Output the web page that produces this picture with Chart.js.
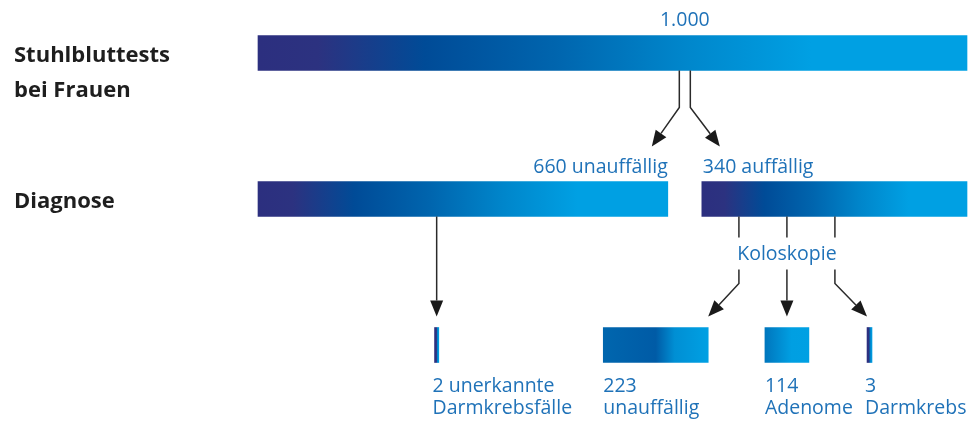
<!DOCTYPE html>
<html lang="de">
<head>
<meta charset="utf-8">
<title>Stuhlbluttests bei Frauen</title>
<script src="https://cdn.jsdelivr.net/npm/chart.js@4/dist/chart.umd.min.js"></script>
<style>
  html, body { margin: 0; padding: 0; background: #fff; }
  #wrap { width: 969px; height: 421px; }
</style>
</head>
<body>
<div id="wrap"><canvas id="flow" width="969" height="421"></canvas></div>
<script>
// rows of the diagram (left headings, last row has none)
const stages = ['Stuhlbluttests\nbei Frauen', 'Diagnose', ''];

// data
const totalTests = 1000;
const screenLabels = ['unauffällig', 'auffällig'];
const screenValues = [660, 340];
const followUpLabel = 'Koloskopie';
const outcomeLabels = ['unerkannte Darmkrebsfälle', 'unauffällig', 'Adenome', 'Darmkrebs'];
const outcomeValues = [2, 223, 114, 3];

// layout: where each box sits on the 0..1000 axis (the picture is not to scale)
const screenSpans = [[0, 578], [626, 1000]];
const outcomeSpans = [[249, 255], [487, 635], [715, 777], [859, 866]];

const blueText = '#1f72b8';
const shades = {
  full: [[0, '#2c2f7f'], [0.085, '#2c3280'], [0.235, '#004b97'], [0.42, '#0065ae'], [0.6, '#0086cb'], [0.78, '#00a0e3'], [1, '#00a0e3']],
  mid:  [[0, '#0066ae'], [0.5, '#005ba6'], [0.68, '#008fd4'], [1, '#00a0e3']],
  soft: [[0, '#0076bd'], [0.6, '#009fe2'], [1, '#00a0e3']],
  thin: [[0, '#2c2f7f'], [0.45, '#2c3280'], [0.55, '#0078c0'], [1, '#00a0e3']]
};

const bars = [{ row: 0, span: [0, totalTests], shade: 'full' }];
screenValues.forEach((v, i) => bars.push({ row: 1, span: screenSpans[i], shade: 'full' }));
outcomeValues.forEach((v, i) => bars.push({ row: 2, span: outcomeSpans[i], shade: ['thin', 'mid', 'soft', 'thin'][i] }));

function fmt(n) {
  return String(n).replace(/\B(?=(\d{3})+(?!\d))/g, '.');
}

function poly(ctx, pts) {
  ctx.beginPath();
  ctx.moveTo(pts[0][0], pts[0][1]);
  for (let i = 1; i < pts.length; i++) ctx.lineTo(pts[i][0], pts[i][1]);
  ctx.stroke();
}

function arrow(ctx, pts) {
  const [tx, ty] = pts[pts.length - 1];
  const [px, py] = pts[pts.length - 2];
  const a = Math.atan2(ty - py, tx - px);
  const len = 16, half = 6.5;
  const bx = tx - len * Math.cos(a), by = ty - len * Math.sin(a);
  poly(ctx, pts.slice(0, -1).concat([[bx, by]]));
  ctx.beginPath();
  ctx.moveTo(tx, ty);
  ctx.lineTo(bx + half * Math.sin(a), by - half * Math.cos(a));
  ctx.lineTo(bx - half * Math.sin(a), by + half * Math.cos(a));
  ctx.closePath();
  ctx.fill();
}

const flowPlugin = {
  id: 'flow',
  afterDatasetsDraw(chart) {
    const ctx = chart.ctx;
    const yScale = chart.scales.y;
    const r = chart.getDatasetMeta(0).data.map(el => {
      const p = el.getProps(['x', 'y', 'base', 'height'], true);
      return {
        l: Math.min(p.x, p.base), r: Math.max(p.x, p.base),
        t: p.y - p.height / 2, b: p.y + p.height / 2, c: (p.x + p.base) / 2
      };
    });
    const [top, left, right, o1, o2, o3, o4] = r;

    ctx.save();
    // headings
    ctx.fillStyle = '#1e1e1e';
    ctx.font = 'bold 22px "Open Sans"';
    ctx.textAlign = 'left';
    ctx.textBaseline = 'alphabetic';
    stages.forEach((s, i) => {
      if (!s) return;
      const y0 = yScale.getPixelForValue(i) + 9;
      s.split('\n').forEach((line, k) => ctx.fillText(line, 14, y0 + k * 35));
    });

    // connectors
    ctx.strokeStyle = '#2a2a2a';
    ctx.fillStyle = '#1a1a1a';
    ctx.lineWidth = 1.5;
    const gx = (left.r + right.l) / 2;
    const split = top.b + 37;
    const tipY = left.t - 35;
    arrow(ctx, [[gx - 5.5, top.b], [gx - 5.5, split], [left.r - 16, tipY]]);
    arrow(ctx, [[gx + 5.5, top.b], [gx + 5.5, split], [right.l + 18, tipY]]);

    const tip3 = o1.t - 11;
    arrow(ctx, [[o1.c, left.b], [o1.c, tip3]]);

    const kx = o3.c;
    const xs = [kx - 48, kx, kx + 48];
    xs.forEach(x => poly(ctx, [[x, right.b], [x, right.b + 21]]));
    const resume = right.b + 53, bend = right.b + 67;
    arrow(ctx, [[xs[0], resume], [xs[0], bend], [o2.r, tip3]]);
    arrow(ctx, [[xs[1], resume], [xs[1], tip3]]);
    arrow(ctx, [[xs[2], resume], [xs[2], bend], [o4.l, tip3]]);

    // blue labels
    ctx.fillStyle = blueText;
    ctx.font = '19.5px "Open Sans"';
    ctx.textAlign = 'center';
    ctx.fillText(fmt(totalTests), gx, top.t - 10);
    ctx.fillText(followUpLabel, kx, right.b + 43);

    ctx.textAlign = 'right';
    ctx.fillText(fmt(screenValues[0]) + ' ' + screenLabels[0], left.r, left.t - 9);
    ctx.textAlign = 'left';
    ctx.fillText(fmt(screenValues[1]) + ' ' + screenLabels[1], right.l + 1, right.t - 9);

    [o1, o2, o3, o4].forEach((box, i) => {
      const words = outcomeLabels[i].split(' ');
      const lines = words.length > 1
        ? [outcomeValues[i] + ' ' + words[0], words.slice(1).join(' ')]
        : [String(outcomeValues[i]), outcomeLabels[i]];
      const lx = box.r - box.l < 10 ? box.l - 2 : box.l;
      ctx.fillText(lines[0], lx, box.b + 29);
      ctx.fillText(lines[1], lx, box.b + 51);
    });
    ctx.restore();
  }
};

new Chart(document.getElementById('flow'), {
  type: 'bar',
  data: {
    labels: stages,
    datasets: [{
      data: bars.map(b => ({ x: b.span, y: stages[b.row] })),
      barThickness: 35,
      borderWidth: 0,
      clip: false,
      backgroundColor: (c) => {
        const bar = bars[c.dataIndex];
        const area = c.chart.chartArea;
        if (!bar || !area) return '#0065ae';
        const x = c.chart.scales.x;
        const x0 = x.getPixelForValue(bar.span[0]);
        const x1 = x.getPixelForValue(bar.span[1]);
        const g = c.chart.ctx.createLinearGradient(x0, 0, x1, 0);
        shades[bar.shade].forEach(([o, col]) => g.addColorStop(o, col));
        return g;
      }
    }]
  },
  options: {
    responsive: false,
    animation: false,
    indexAxis: 'y',
    layout: { padding: { left: 258, right: 2, top: 53, bottom: 76 } },
    scales: {
      x: { type: 'linear', min: 0, max: 1000, display: false },
      y: { type: 'category', offset: false, display: false }
    },
    plugins: {
      legend: { display: false },
      tooltip: { enabled: false }
    }
  },
  plugins: [flowPlugin]
});
</script>
</body>
</html>
